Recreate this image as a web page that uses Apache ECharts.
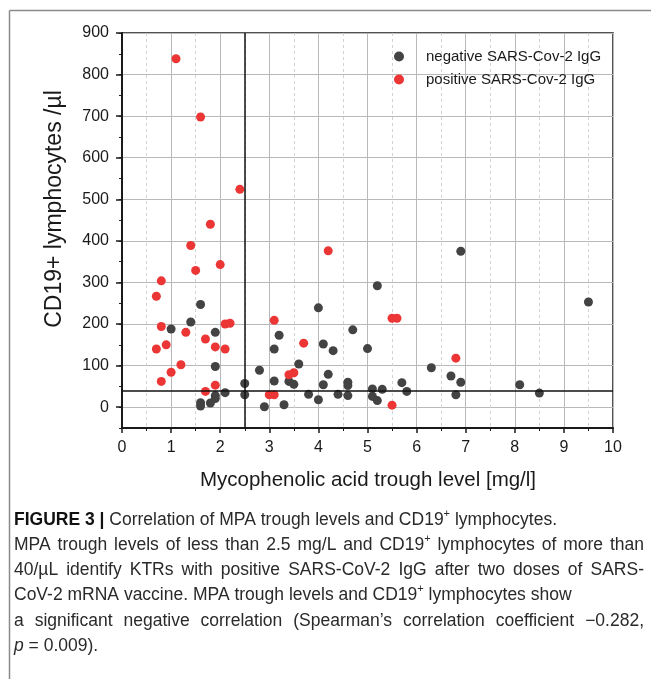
<!DOCTYPE html>
<html><head><meta charset="utf-8">
<script src="https://cdn.jsdelivr.net/npm/echarts@6/dist/echarts.min.js"></script>
<style>html,body{margin:0;padding:0;background:#fff}#c{width:651px;height:679px}</style>
</head><body><div id="c"></div>
<script>
const seriesNames = ['negative SARS-Cov-2 IgG', 'positive SARS-Cov-2 IgG'];
const negX = [1.6,1.4,1.0,1.9,1.9,1.6,1.6,1.8,1.9,1.9,2.1,2.5,2.5,2.8,2.9,3.1,3.2,3.1,3.3,3.4,3.5,3.6,3.8,4.0,4.0,4.1,4.3,4.2,4.1,4.4,4.6,4.6,4.6,4.7,5.0,5.2,6.9,9.5,6.3,6.7,6.9,6.8,5.7,5.8,5.3,5.1,5.1,5.2,8.1,8.5];
const negY = [247,205,188,180,98,11,3,10,28,21,35,57,30,89,1,140,173,63,6,62,55,104,31,239,18,152,136,79,54,31,60,52,28,186,141,292,375,253,95,75,60,30,59,38,43,44,26,16,54,34];
const posX = [1.1,1.6,2.4,1.8,1.4,1.5,2.0,0.8,0.7,0.8,1.3,2.1,2.2,1.7,0.7,0.9,1.9,2.1,1.2,1.0,0.8,1.9,1.7,4.2,3.1,3.7,3.4,3.5,3.0,3.1,5.5,5.6,6.8,5.5];
const posY = [838,698,524,440,389,329,343,304,267,194,180,200,202,164,140,150,145,140,102,84,62,53,38,376,209,154,78,83,30,30,214,214,118,5];
const yTicks = [0,100,200,300,400,500,600,700,800,900];
const cutX = 2.5;
const cutY = 40;
const xName = 'Mycophenolic acid trough level [mg/l]';
const yName = 'CD19+ lymphocytes /µl';
const captionLines = [
  '{b|FIGURE 3 |} Correlation of MPA trough levels and CD19{s|+} lymphocytes.',
  'MPA trough levels of less than 2.5 mg/L and CD19{s|+} lymphocytes of more than',
  '40/µL identify KTRs with positive SARS-CoV-2 IgG after two doses of SARS-',
  'CoV-2 mRNA vaccine. MPA trough levels and CD19{s|+} lymphocytes show',
  'a significant negative correlation (Spearman\u2019s correlation coefficient \u22120.282,',
  '{i|p} = 0.009).'
];
const captionJustify = [false, true, true, false, true, false];

const FAM = '"Liberation Sans"';
const FONT = 'Liberation Sans, Arial, sans-serif';
const CAP_SIZE = 17.5;
const SUP_SIZE = 11;
const CAP_LEFT = 14, CAP_RIGHT = 644;

const mctx = document.createElement('canvas').getContext('2d');
function measureRich(str) {
  let w = 0;
  const re = /\{(\w)\|([^}]*)\}|([^{]+)/g;
  let m;
  while ((m = re.exec(str))) {
    if (m[3] !== undefined) {
      mctx.font = CAP_SIZE + 'px ' + FAM;
      w += mctx.measureText(m[3]).width;
    } else {
      const k = m[1];
      mctx.font = (k === 'i' ? 'italic ' : '') + (k === 'b' ? 'bold ' : '') + (k === 's' ? SUP_SIZE : CAP_SIZE) + 'px ' + FAM;
      w += mctx.measureText(m[2]).width;
    }
  }
  return w;
}
const richStyles = {
  b: {fontWeight: 'bold', fontSize: CAP_SIZE, fontFamily: FONT, fill: '#111', lineHeight: 24},
  s: {fontSize: SUP_SIZE, fontFamily: FONT, fill: '#2a2a2a', verticalAlign: 'top', lineHeight: 14},
  i: {fontStyle: 'italic', fontSize: CAP_SIZE, fontFamily: FONT, fill: '#2a2a2a', lineHeight: 24}
};
function capText(t, x, y) {
  return {
    type: 'text', x: x, y: y,
    style: {
      text: t, fontSize: CAP_SIZE, fontFamily: FONT, fill: '#2a2a2a', lineHeight: 24,
      verticalAlign: 'middle', align: 'left', rich: richStyles
    }
  };
}

const chart = echarts.init(document.getElementById('c'), null, {renderer: 'canvas'});

const graphics = [
  {type: 'line', shape: {x1: 9.5, y1: 10.5, x2: 651, y2: 10.5}, style: {stroke: '#8a8a8a', lineWidth: 1.5}, silent: true},
  {type: 'line', shape: {x1: 9.5, y1: 10.5, x2: 9.5, y2: 679}, style: {stroke: '#8a8a8a', lineWidth: 1.5}, silent: true},
  {type: 'text', x: 55, y: 209, rotation: Math.PI / 2, style: {text: yName, fontSize: 23, fontFamily: FONT, fill: '#1a1a1a', align: 'center', verticalAlign: 'middle'}},
  {type: 'text', x: 368, y: 480, style: {text: xName, fontSize: 20.5, fontFamily: FONT, fill: '#1a1a1a', align: 'center', verticalAlign: 'middle'}}
];
captionLines.forEach((t, i) => {
  const y = 520 + 25.2 * i;
  if (!captionJustify[i]) {
    graphics.push(capText(t, CAP_LEFT, y));
    return;
  }
  const words = t.split(' ');
  const widths = words.map(measureRich);
  const total = widths.reduce((a, b) => a + b, 0);
  const gap = (CAP_RIGHT - CAP_LEFT - total) / (words.length - 1);
  let x = CAP_LEFT;
  words.forEach((w, j) => {
    graphics.push(capText(w, x, y));
    x += widths[j] + gap;
  });
});

const axisLineStyle = {color: '#1a1a1a', width: 2};
const MAJOR = '#b9b9b9';
const MINOR = '#d2d2d2';
chart.setOption({
  animation: false,
  backgroundColor: '#fff',
  textStyle: {fontFamily: FONT},
  grid: {left: 122, right: 38, top: 33, bottom: 251, show: true, borderColor: '#1a1a1a', borderWidth: 1.5, containLabel: false},
  legend: {
    data: seriesNames, orient: 'vertical', left: 389, top: 44, icon: 'circle',
    itemWidth: 44, itemHeight: 10, itemGap: 8,
    textStyle: {fontSize: 15, color: '#1a1a1a', fontFamily: FONT}
  },
  xAxis: {
    type: 'value', min: 0, max: 10, interval: 1,
    axisLine: {show: true, onZero: false, lineStyle: axisLineStyle},
    axisTick: {show: true, length: 5, lineStyle: {color: '#1a1a1a', width: 1.5}},
    minorTick: {show: true, splitNumber: 2, length: 3, lineStyle: {color: '#1a1a1a', width: 1}},
    axisLabel: {fontSize: 16, color: '#1a1a1a', margin: 12, fontFamily: FONT},
    splitLine: {show: true, lineStyle: {color: MAJOR, width: 1, type: 'solid'}},
    minorSplitLine: {show: true, lineStyle: {color: MINOR, width: 1, type: [3, 3]}}
  },
  yAxis: [
    {
      type: 'value', min: -50, max: 900, interval: 50,
      axisLine: {show: true, onZero: false, lineStyle: axisLineStyle},
      axisTick: {show: true, length: 6, customValues: yTicks, lineStyle: {color: '#1a1a1a', width: 1.5}},
      axisLabel: {fontSize: 16, color: '#1a1a1a', margin: 13, fontFamily: FONT, customValues: yTicks},
      splitLine: {show: true, lineStyle: {color: MINOR, width: 1, type: [3, 3]}}
    },
    {
      type: 'value', min: -50, max: 900, interval: 50, position: 'left', offset: 0,
      axisLine: {show: false},
      axisTick: {show: true, length: 3, lineStyle: {color: '#1a1a1a', width: 1}},
      axisLabel: {show: false},
      splitLine: {show: true, lineStyle: {color: ['rgba(0,0,0,0)', MAJOR], width: 1, type: 'solid'}}
    }
  ],
  series: [
    {
      name: seriesNames[0], type: 'scatter', yAxisIndex: 0, symbolSize: 9,
      itemStyle: {color: '#434343', opacity: 1},
      data: negX.map((x, i) => [x, negY[i]]),
      markLine: {
        silent: true, symbol: 'none', label: {show: false},
        lineStyle: {color: '#111', type: 'solid', width: 1.5},
        data: [{xAxis: cutX}, {yAxis: cutY}]
      }
    },
    {
      name: seriesNames[1], type: 'scatter', yAxisIndex: 0, symbolSize: 9,
      itemStyle: {color: '#ec3636', opacity: 1},
      data: posX.map((x, i) => [x, posY[i]])
    }
  ],
  graphic: graphics
});
</script>
</body></html>
